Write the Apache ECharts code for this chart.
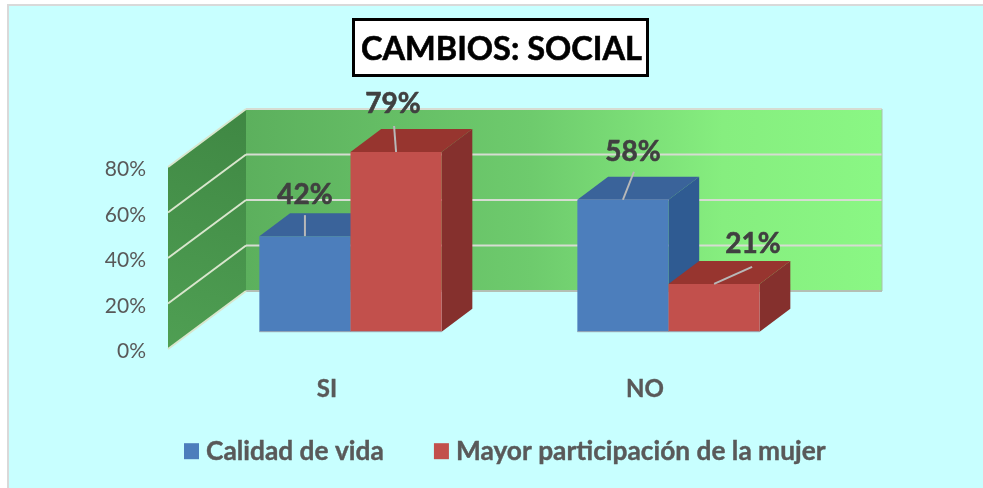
<!DOCTYPE html>
<html>
<head>
<meta charset="utf-8">
<style>html,body{margin:0;padding:0;background:#fff;overflow:hidden}#c{width:983px;height:488px}</style>
<script src="https://cdn.jsdelivr.net/npm/echarts@6/dist/echarts.min.js"></script>
</head>
<body>
<div id="c"></div>
<script>
var titleText = 'CAMBIOS: SOCIAL';
var categories = ['SI', 'NO'];
var calidadDeVida = [42, 58];
var mayorParticipacion = [79, 21];
var yTicks = [0, 20, 40, 60, 80];
var seriesNames = ['Calidad de vida', 'Mayor participación de la mujer'];

var FONT = 'Lato, "Open Sans", sans-serif';
var WALL = {x: 78, y: -58};
var BASE = {x: 23.5, y: -17.3};
var DEPTH = {x: 30.7, y: -23};
var BAR_RATIO = 0.2866;
var leader = {
  0: [{text: [0, -42], a: [0, -21], b: [0, 0]}, {text: [10, -49], a: [11, -28], b: [0, 0]}],
  1: [{text: [-3, -49], a: [-2, -26], b: [0, 0]}, {text: [39, -41], a: [38, -17], b: [0, 0]}]
};
var palette = [
  {front: '#4c7ebc', top: '#3a639a', side: '#2f5b92'},
  {front: '#c2504c', top: '#97352f', side: '#85302d'}
];

function poly(points, fill) {
  return {type: 'polygon', shape: {points: points}, style: {fill: fill}};
}
function seg(x1, y1, x2, y2, color, w) {
  return {type: 'line', shape: {x1: x1, y1: y1, x2: x2, y2: y2}, style: {stroke: color, lineWidth: w}};
}
function renderWalls(params, api) {
  var cs = params.coordSys;
  var l = cs.x, r = cs.x + cs.width, t = cs.y, b = cs.y + cs.height;
  var kids = [];
  kids.push({type: 'polygon',
    shape: {points: [[l + WALL.x, t + WALL.y], [r + WALL.x, t + WALL.y], [r + WALL.x, b + WALL.y], [l + WALL.x, b + WALL.y]]},
    style: {fill: new echarts.graphic.LinearGradient(0, 0, 1, 0, [
      {offset: 0, color: '#5cb05d'}, {offset: 0.45, color: '#6ecb6d'}, {offset: 0.75, color: '#86ee7f'}, {offset: 1, color: '#8af784'}
    ])}});
  kids.push({type: 'polygon',
    shape: {points: [[l, t], [l + WALL.x, t + WALL.y], [l + WALL.x, b + WALL.y], [l, b]]},
    style: {fill: new echarts.graphic.LinearGradient(0, 1, 1, 0, [
      {offset: 0, color: '#4f9f53'}, {offset: 1, color: '#3f8743'}
    ])}});
  yTicks.forEach(function (v) {
    var y = api.coord([0, v])[1];
    var wy = y + WALL.y;
    kids.push(seg(l + WALL.x, wy, r + WALL.x, wy, v === 0 ? '#b4bfb4' : '#d6dcd2', 2.2));
    kids.push(seg(l, y, l + WALL.x, wy, '#d9e6cd', 2));
  });
  kids.push(seg(r + WALL.x, t + WALL.y, r + WALL.x, b + WALL.y, '#a9c4a9', 1));
  return {type: 'group', children: kids};
}
function barRenderer(si) {
  return function (params, api) {
    var p = api.coord([api.value(0), api.value(1)]);
    var zero = api.coord([api.value(0), 0]);
    var w = api.size([1, 0])[0] * BAR_RATIO;
    var x0 = p[0] + BASE.x + (si === 0 ? -w : 0);
    var x1 = x0 + w;
    var yT = p[1] + BASE.y;
    var yB = zero[1] + BASE.y;
    var c = palette[si];
    var dx = DEPTH.x, dy = DEPTH.y;
    var cx = (x0 + x1) / 2;
    var L = leader[si][params.dataIndex];
    return {type: 'group', children: [
      poly([[x1, yT], [x1 + dx, yT + dy], [x1 + dx, yB + dy], [x1, yB]], c.side),
      poly([[x0, yT], [x0 + dx, yT + dy], [x1 + dx, yT + dy], [x1, yT]], c.top),
      poly([[x0, yT], [x1, yT], [x1, yB], [x0, yB]], c.front),
      seg(x0, yB, x1, yB, '#9aa6b0', 1),
      seg(cx + L.a[0], yT + L.a[1], cx + L.b[0], yT + L.b[1], '#b8b8b8', 2),
      {type: 'text', style: {
        x: cx + L.text[0], y: yT + L.text[1] + 1,
        text: api.value(1) + '%', align: 'center', verticalAlign: 'middle',
        fill: '#404040', stroke: '#404040', lineWidth: 0.6, font: 'bold 28px ' + FONT
      }}
    ]};
  };
}
function toData(vals) {
  return vals.map(function (v, i) { return [categories[i], v]; });
}

var chart = echarts.init(document.getElementById('c'), null, {renderer: 'canvas'});
chart.setOption({
  animation: false,
  backgroundColor: '#ffffff',
  graphic: [{type: 'rect', z: -10, silent: true,
    shape: {x: 8, y: 5, width: 1000, height: 500},
    style: {fill: '#c8ffff', stroke: '#d9d9d9', lineWidth: 2}}],
  title: {
    text: titleText, left: 354, top: 20,
    padding: [13, 6, 9, 7],
    backgroundColor: '#fff', borderColor: '#000', borderWidth: 3,
    textStyle: {fontFamily: FONT, fontWeight: 'bold', fontSize: 32.5, color: '#000',
      textBorderColor: '#000', textBorderWidth: 0.6}
  },
  legend: {
    left: 184, top: 438, padding: 0, itemWidth: 15, itemHeight: 16, itemGap: 50,
    icon: 'rect',
    textStyle: {fontFamily: FONT, fontWeight: 'bold', fontSize: 26.3, color: '#595959', padding: [0, 0, 0, 2],
      textBorderColor: '#595959', textBorderWidth: 0.4},
    data: seriesNames
  },
  grid: {left: 168, right: 179, top: 167, bottom: 139},
  xAxis: {
    type: 'category', data: categories,
    axisLine: {show: false}, axisTick: {show: false},
    axisLabel: {fontFamily: FONT, fontWeight: 'bold', fontSize: 24, color: '#595959', margin: 28,
      textBorderColor: '#595959', textBorderWidth: 0.4}
  },
  yAxis: {
    type: 'value', min: 0, max: 80, interval: 20,
    axisLine: {show: false}, axisTick: {show: false}, splitLine: {show: false},
    axisLabel: {formatter: '{t|{value}%}', margin: 22,
      rich: {t: {fontFamily: FONT, fontSize: 21, color: '#595959', padding: [5, 0, 0, 0]}}}
  },
  series: [
    {type: 'custom', name: 'walls', silent: true, z: 1, renderItem: renderWalls, data: [[categories[0], 0]], clip: false},
    {type: 'custom', name: seriesNames[0], z: 2, itemStyle: {color: palette[0].front},
      encode: {x: 0, y: 1}, renderItem: barRenderer(0), data: toData(calidadDeVida), clip: false},
    {type: 'custom', name: seriesNames[1], z: 3, itemStyle: {color: palette[1].front},
      encode: {x: 0, y: 1}, renderItem: barRenderer(1), data: toData(mayorParticipacion), clip: false}
  ]
});
</script>
</body>
</html>
